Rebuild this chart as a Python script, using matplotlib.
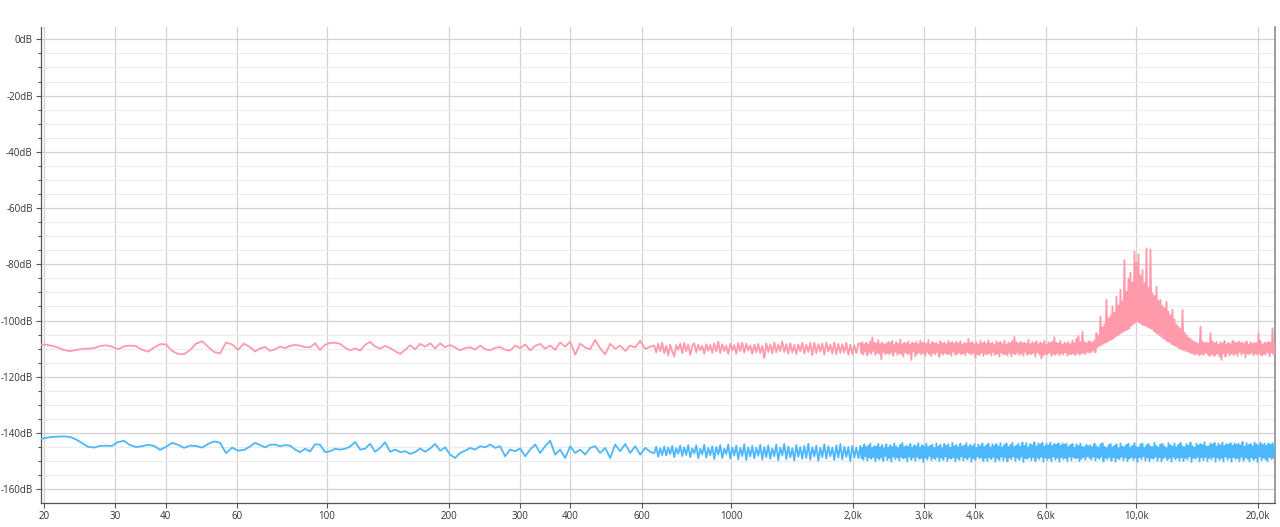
import matplotlib
matplotlib.use("Agg")
import matplotlib.pyplot as plt
from matplotlib.ticker import FixedLocator, FixedFormatter, MultipleLocator, NullLocator

plt.rcParams['font.family'] = ['Open Sans', 'DejaVu Sans']

# shared frequency bins (Hz)
freq_hz = [
    # 20 - 62 Hz
    19.66, 20.23, 20.93, 21.65, 22.41, 23.19, 24.00, 24.83, 25.69, 26.59,
    27.51, 28.47, 29.45, 30.48, 31.54, 32.63, 33.76, 34.94, 36.15, 37.41,
    38.71, 40.06, 41.45, 42.89, 44.38, 45.92, 47.52, 49.17, 50.87, 52.64,
    54.47, 56.36, 58.32, 60.35, 62.45,
    # 64 - 200 Hz
    64.61, 66.48, 68.40, 70.38, 72.40, 74.49, 76.64, 78.85, 81.13, 83.47,
    85.89, 88.37, 90.92, 93.55, 96.24, 99.02, 101.9, 104.8, 107.9, 111.0,
    114.2, 117.5, 120.9, 124.4, 127.9, 131.6, 135.4, 139.3, 143.4, 147.5,
    151.8, 156.2, 160.6, 165.3, 170.1, 175.0, 180.0, 185.2, 190.6, 196.1,
    201.7,
    # 200 - 630 Hz
    207.5, 213.5, 219.7, 226.0, 232.5, 239.3, 246.2, 253.3, 260.6, 268.1,
    275.9, 283.8, 292.0, 300.5, 309.2, 318.1, 327.3, 336.7, 346.4, 356.4,
    366.7, 377.3, 388.2, 399.4, 410.9, 422.8, 435.0, 447.6, 460.5, 473.8,
    487.5, 501.6, 516.1, 531.0, 546.3, 562.1, 578.3, 595.0, 612.2, 629.9,
    # 640 Hz - 2 kHz
    644.4, 651.8, 659.2, 666.8, 674.4, 682.2, 690.0, 697.9, 705.8, 713.9,
    722.1, 730.3, 738.7, 747.2, 755.8, 764.4, 773.2, 782.0, 791.0, 800.1,
    809.2, 818.5, 827.9, 837.3, 846.9, 856.6, 866.4, 876.3, 886.4, 896.5,
    906.8, 917.2, 927.7, 938.3, 949.0, 959.9, 970.9, 982.0, 993.3, 1004.7,
    1016.2, 1027.8, 1039.6, 1051.5, 1063.5, 1075.7, 1088.0, 1100.5, 1113.1, 1125.8,
    1138.7, 1151.8, 1164.9, 1178.3, 1191.8, 1205.4, 1219.2, 1233.2, 1247.3, 1261.6,
    1276.0, 1290.6, 1305.4, 1320.4, 1335.5, 1350.8, 1366.3, 1381.9, 1397.8, 1413.8,
    1430.0, 1446.4, 1462.9, 1479.7, 1496.6, 1513.8, 1531.1, 1548.6, 1566.4, 1584.3,
    1602.5, 1620.8, 1639.4, 1658.2, 1677.2, 1696.4, 1715.8, 1735.5, 1755.3, 1775.4,
    1795.7, 1816.3, 1837.1, 1858.2, 1879.5, 1901.0, 1922.8, 1944.8, 1967.0, 1989.5,
    2012.3, 2035.3, 2058.6,
    # 2 kHz - 7.6 kHz
    2082, 2094.2, 2106, 2118.2, 2130, 2142.4, 2155, 2166.9, 2179, 2191.8,
    2204, 2216.9, 2230, 2242.3, 2255, 2267.9, 2281, 2293.9, 2307, 2320.2,
    2333, 2346.7, 2360, 2373.6, 2387, 2400.8, 2414, 2428.2, 2442, 2456.1,
    2470, 2484.2, 2498, 2512.6, 2527, 2541.4, 2556, 2570.5, 2585, 2599.9,
    2615, 2629.8, 2645, 2659.9, 2675, 2690.4, 2706, 2721.2, 2737, 2752.4,
    2768, 2783.9, 2800, 2815.8, 2832, 2848.0, 2864, 2880.6, 2897, 2913.6,
    2930, 2947.0, 2964, 2980.8, 2998, 3014.9, 3032, 3049.4, 3067, 3084.3,
    3102, 3119.7, 3138, 3155.4, 3173, 3191.6, 3210, 3228.1, 3247, 3265.1,
    3284, 3302.4, 3321, 3340.3, 3359, 3378.5, 3398, 3417.2, 3437, 3456.3,
    3476, 3495.9, 3516, 3536.0, 3556, 3576.5, 3597, 3617.4, 3638, 3658.8,
    3680, 3700.8, 3722, 3743.2, 3765, 3786.0, 3808, 3829.4, 3851, 3873.2,
    3895, 3917.6, 3940, 3962.5, 3985, 4007.9, 4031, 4053.8, 4077, 4100.2,
    4124, 4147.1, 4171, 4194.6, 4219, 4242.6, 4267, 4291.2, 4316, 4340.4,
    4365, 4390.1, 4415, 4440.4, 4466, 4491.2, 4517, 4542.6, 4569, 4594.6,
    4621, 4647.4, 4674, 4700.6, 4727, 4754.4, 4782, 4808.8, 4836, 4863.9,
    4892, 4919.6, 4948, 4976.0, 5004, 5032.9, 5062, 5090.6, 5120, 5148.9,
    5178, 5207.9, 5238, 5267.5, 5298, 5327.8, 5358, 5388.8, 5420, 5450.5,
    5482, 5513.0, 5544, 5576.1, 5608, 5639.9, 5672, 5704.5, 5737, 5769.8,
    5803, 5836.0, 5869, 5902.8, 5937, 5970.4, 6005, 6038.8, 6073, 6107.9,
    6143, 6178.0, 6213, 6248.7, 6284, 6320.2, 6356, 6392.6, 6429, 6465.8,
    6503, 6539.9, 6577, 6614.8, 6653, 6690.5, 6729, 6767.1, 6806, 6844.6,
    6884, 6923.1, 6963, 7002.4, 7042, 7082.5, 7123, 7163.6, 7205, 7245.6,
    7287, 7328.7, 7371, 7412.6, 7455, 7497.5, 7540, 7583.3, 7627,
    # 7.6 kHz - 14.5 kHz
    7670.2,
    7714.1, 7758.1, 7802.4, 7847.0, 7891.8, 7936.8, 7982.1, 8027.7, 8073.5, 8119.6,
    8166.0, 8212.6, 8259.5, 8306.6, 8354.1, 8401.8, 8449.7, 8498.0, 8546.5, 8595.3,
    8644.5, 8693.8, 8743.5, 8793.4, 8843.6, 8894.1, 8944.9, 8995.9, 9047.3, 9098.9,
    9151.0, 9203.2, 9255.8, 9308.6, 9361.8, 9415.2, 9469.0, 9523.0, 9577.4, 9632.1,
    9687.1, 9742.4, 9798.0, 9854.0, 9910.2, 9966.8, 10023.7, 10080.9, 10138.5, 10196.4,
    10254.7, 10313.2, 10372.0, 10431.2, 10490.9, 10550.7, 10611.0, 10671.5, 10732.5, 10793.8,
    10855.5, 10917.5, 10979.8, 11042.5, 11105.5, 11168.9, 11232.7, 11296.8, 11361.3, 11426.2,
    11491.5, 11557.1, 11623.1, 11689.4, 11756.2, 11823.3, 11890.8, 11958.7, 12027.0, 12095.6,
    12164.8, 12234.2, 12304.1, 12374.3, 12445.0, 12516.0, 12587.5, 12659.3, 12731.6, 12804.3,
    12877.5, 12951.0, 13025.0, 13099.3, 13174.1, 13249.3, 13324.9, 13401.0, 13477.5, 13554.4,
    13632.0, 13709.8, 13788.1, 13866.8, 13946.0, 14025.6, 14105.7, 14186.2, 14267.2, 14348.6,
    14430.7, 14513.1,
    # 14.5 kHz - 22 kHz
    14596, 14679.2, 14763, 14847.3, 14932, 15017.3, 15103, 15189.3,
    15276, 15363.4, 15451, 15539.3, 15628, 15717.3, 15807, 15897.2, 15988, 16079.3,
    16171, 16263.5, 16356, 16449.8, 16544, 16638.1, 16733, 16828.6, 16925, 17021.3,
    17119, 17216.4, 17315, 17413.6, 17513, 17612.9, 17713, 17814.6, 17916, 18018.6,
    18122, 18225.1, 18329, 18433.9, 18539, 18645.0, 18751, 18858.4, 18966, 19074.4,
    19183, 19292.9, 19403, 19513.8, 19625, 19737.2, 19850, 19963.2, 20077, 20191.8,
    20307, 20423.2, 20540, 20657.0, 20775, 20893.6, 21013, 21132.8, 21253, 21374.8,
    21497, 21619.8, 21743, 21867.4, 21992,
]

# pink trace (dB)
pink_db = [
    # 20 - 62 Hz
    -108.6, -108.6, -109.0, -109.6, -110.5, -110.9, -110.5, -110.1, -110.0, -109.8,
    -109.1, -108.8, -109.3, -110.2, -109.2, -108.9, -109.1, -110.4, -111.1, -109.6,
    -108.4, -108.5, -110.8, -111.9, -112.0, -110.5, -108.2, -107.4, -109.3, -111.2,
    -111.7, -107.8, -108.5, -110.4, -108.2,
    # 64 - 200 Hz
    -109.5, -111.0, -109.9, -109.4, -110.8, -110.2, -109.3, -109.8, -109.0, -108.7,
    -108.9, -109.5, -109.5, -108.1, -110.5, -108.6, -108.0, -107.9, -108.3, -109.7,
    -110.6, -109.9, -110.7, -108.6, -107.6, -109.2, -110.0, -109.0, -109.8, -110.9,
    -111.9, -110.4, -108.8, -110.2, -108.3, -109.3, -108.1, -109.9, -108.1, -109.5,
    -108.7,
    # 200 - 630 Hz
    -109.6, -110.6, -109.8, -109.5, -110.3, -108.9, -110.2, -110.6, -109.7, -109.4,
    -110.4, -110.7, -108.9, -109.8, -108.5, -110.6, -109.0, -108.3, -110.0, -108.9,
    -110.4, -107.8, -109.3, -107.5, -112.2, -108.2, -109.6, -110.2, -106.9, -109.9,
    -112.0, -108.3, -110.0, -108.9, -110.8, -108.9, -109.6, -107.2, -110.1, -109.3,
    # 640 Hz - 2 kHz
    -108.9, -111.3, -108.3, -110.9, -107.9, -111.7, -109.0, -112.4, -108.6, -111.0,
    -112.8, -108.7, -110.4, -108.2, -111.6, -108.0, -110.9, -108.5, -112.2, -109.0,
    -108.1, -111.3, -108.6, -110.6, -109.0, -111.8, -108.4, -110.8, -108.7, -111.5,
    -108.2, -111.0, -107.5, -111.6, -108.4, -110.9, -108.9, -111.9, -108.3, -110.6,
    -108.7, -111.8, -108.0, -110.9, -107.9, -111.4, -108.2, -110.6, -108.8, -111.9,
    -108.6, -111.3, -108.3, -111.6, -109.0, -113.4, -108.1, -111.2, -108.5, -111.7,
    -107.8, -111.3, -108.6, -110.9, -107.5, -111.2, -108.4, -111.8, -108.1, -111.4,
    -108.7, -111.9, -108.5, -111.0, -107.9, -111.7, -108.6, -111.2, -108.0, -112.3,
    -107.9, -111.6, -108.4, -111.0, -108.2, -112.1, -107.8, -111.0, -108.5, -111.8,
    -107.8, -112.0, -108.3, -111.5, -108.4, -111.4, -107.9, -112.2, -108.6, -111.9,
    -108.8, -111.6, -108.2,
    # 2 kHz - 7.6 kHz
    -108.2, -111.6, -107.6, -112.1, -108.5, -111.0, -107.9, -112.4, -108.6, -111.3,
    -107.4, -111.9, -106.0, -110.8, -107.9, -112.3, -108.1, -111.5, -107.0, -111.8,
    -108.4, -113.8, -107.8, -111.2, -108.6, -112.0, -108.2, -111.7, -107.5, -112.0,
    -108.0, -111.4, -107.3, -112.5, -108.7, -111.1, -107.7, -112.2, -108.3, -111.6,
    -106.8, -111.9, -108.5, -112.8, -107.9, -111.3, -108.1, -112.0, -107.4, -111.7,
    -108.6, -114.0, -107.8, -111.0, -108.2, -112.7, -107.5, -111.8, -108.4, -111.4,
    -107.1, -112.1, -108.0, -111.6, -107.7, -112.4, -108.3, -111.2, -106.9, -111.9,
    -108.5, -112.6, -107.6, -111.5, -108.1, -112.0, -107.9, -111.3, -108.6, -112.9,
    -107.4, -111.7, -108.2, -112.2, -107.8, -111.5, -108.4, -112.0, -107.2, -111.8,
    -108.0, -112.5, -107.7, -111.1, -108.3, -112.3, -107.5, -111.9, -108.1, -111.4,
    -107.3, -112.0, -108.5, -111.6, -107.9, -112.4, -108.2, -111.2, -106.5, -111.7,
    -108.0, -112.1, -107.6, -111.5, -108.4, -113.2, -107.8, -111.9, -108.6, -112.3,
    -107.2, -111.4, -108.1, -112.6, -107.5, -111.8, -108.3, -112.0, -107.0, -111.6,
    -108.2, -112.5, -107.9, -111.2, -108.7, -112.2, -107.4, -111.7, -108.0, -112.8,
    -107.6, -111.3, -108.4, -112.1, -107.1, -111.9, -108.5, -112.4, -107.8, -111.5,
    -108.1, -112.7, -107.3, -111.6, -105.8, -112.0, -107.7, -111.4, -108.2, -112.3,
    -107.5, -111.8, -108.0, -112.5, -107.9, -111.1, -108.3, -112.2, -106.9, -111.7,
    -108.4, -112.0, -107.6, -111.5, -108.1, -112.9, -107.4, -111.3, -108.5, -112.1,
    -107.8, -113.5, -108.2, -112.4, -107.2, -111.9, -108.6, -112.0, -107.7, -111.4,
    -108.0, -112.6, -107.5, -111.8, -106.0, -112.2, -107.9, -111.5, -108.1, -112.4,
    -107.3, -111.7, -108.5, -112.1, -107.8, -111.3, -108.2, -112.5, -107.6, -111.9,
    -108.4, -112.0, -107.1, -111.6, -108.0, -112.3, -106.5, -111.4, -105.5, -112.1,
    -107.7, -111.8, -104.0, -111.5, -107.6, -112.0, -108.1, -111.2, -107.4,
    # 7.6 kHz - 14.5 kHz (resonance around 10 kHz)
    -111.5,
    -107.4, -111.2, -107.9, -110.6, -107.1, -111.4, -104.5, -109.6, -105.3, -109.0,
    -98.6, -108.7, -102.4, -108.2, -101.5, -107.9, -92.7, -107.6, -99.2, -107.0,
    -98.4, -106.8, -95.0, -106.3, -97.3, -105.8, -91.5, -105.2, -94.6, -104.9,
    -89.0, -104.3, -93.2, -103.9, -78.5, -103.5, -89.8, -103.2, -85.0, -102.8,
    -83.0, -101.9, -86.4, -101.2, -75.5, -100.6, -79.5, -100.3, -76.5, -100.8,
    -84.0, -101.2, -82.0, -101.6, -86.7, -101.8, -74.3, -102.2, -88.5, -102.6,
    -74.7, -103.0, -90.3, -103.6, -91.2, -104.1, -88.0, -104.7, -93.0, -105.2,
    -92.7, -105.9, -94.8, -106.4, -95.6, -106.9, -93.3, -107.4, -96.9, -107.8,
    -98.1, -108.3, -96.2, -108.7, -99.6, -109.1, -101.4, -109.5, -102.2, -109.9,
    -103.0, -110.2, -96.2, -110.5, -104.3, -110.8, -105.2, -111.0, -106.1, -111.4,
    -106.5, -111.6, -107.2, -111.9, -107.6, -112.2, -107.9, -111.7, -108.3, -112.4,
    -102.2, -111.8,
    # 14.5 kHz - 22 kHz
    -107.5, -112.3, -108.0, -111.5, -107.8, -111.9, -108.1, -112.6,
    -104.5, -111.9, -107.4, -112.5, -108.0, -112.4, -107.6, -111.7, -108.5, -112.8,
    -107.7, -114.0, -108.2, -111.6, -107.3, -112.9, -108.6, -111.4, -107.9, -112.5,
    -108.4, -111.8, -107.2, -112.3, -107.6, -111.9, -108.1, -112.6, -107.5, -111.2,
    -108.0, -112.2, -107.8, -111.5, -108.3, -113.1, -107.4, -111.7, -108.6, -112.0,
    -107.7, -111.4, -108.2, -112.4, -107.9, -111.8, -108.1, -112.1, -104.5, -111.6,
    -107.3, -112.5, -108.4, -111.9, -107.8, -112.2, -108.0, -111.3, -107.6, -112.7,
    -107.9, -111.4, -102.8, -112.0, -108.2,
]

# blue trace (dB)
blue_db = [
    # 20 - 62 Hz
    -142.1, -141.7, -141.4, -141.3, -141.2, -141.4, -142.3, -143.6, -144.9, -145.2,
    -144.6, -144.5, -144.6, -143.2, -142.8, -144.3, -145.0, -144.7, -144.2, -144.6,
    -146.0, -144.9, -143.5, -144.2, -145.3, -144.5, -144.6, -145.2, -143.9, -143.0,
    -143.5, -147.2, -145.2, -146.3, -146.0,
    # 64 - 200 Hz
    -144.8, -143.5, -144.3, -145.1, -144.2, -144.1, -144.7, -144.3, -144.5, -145.9,
    -146.8, -145.6, -146.6, -144.0, -144.2, -146.8, -146.5, -145.6, -145.9, -145.6,
    -144.8, -143.2, -145.9, -145.6, -143.8, -146.7, -145.3, -143.3, -146.7, -145.9,
    -146.8, -146.5, -147.4, -146.8, -145.5, -146.7, -145.5, -143.9, -146.3, -145.1,
    -147.7,
    # 200 - 630 Hz
    -148.9, -147.1, -146.3, -145.3, -145.9, -144.7, -145.1, -144.1, -145.3, -144.7,
    -148.3, -145.9, -146.5, -145.5, -148.3, -145.9, -144.1, -147.1, -144.7, -142.7,
    -147.7, -145.9, -148.9, -144.7, -147.1, -145.9, -147.7, -145.3, -144.7, -147.1,
    -145.3, -148.9, -144.1, -146.5, -143.9, -147.1, -144.7, -147.7, -145.3, -146.7,
    # 640 Hz - 2 kHz
    -147.2, -144.9, -148.4, -145.4, -147.9, -144.8, -148.0, -145.2, -147.5, -144.6,
    -148.6, -145.4, -147.4, -144.5, -148.2, -145.1, -147.8, -144.3, -148.6, -145.5,
    -147.3, -144.4, -149.0, -145.6, -147.6, -144.2, -148.8, -145.3, -147.9, -144.7,
    -149.3, -145.0, -147.7, -144.3, -148.9, -145.6, -147.5, -144.1, -149.1, -145.2,
    -148.0, -144.5, -149.4, -145.3, -148.2, -144.0, -149.6, -145.1, -148.4, -144.6,
    -149.0, -145.3, -148.1, -144.2, -149.5, -145.0, -148.6, -144.4, -149.2, -145.5,
    -148.3, -144.1, -149.7, -145.2, -148.0, -143.9, -149.3, -144.8, -148.7, -145.4,
    -149.8, -144.3, -148.5, -145.0, -149.2, -144.6, -148.9, -143.8, -149.5, -145.1,
    -148.4, -144.5, -149.9, -145.3, -148.6, -144.0, -149.1, -144.7, -148.3, -145.2,
    -149.6, -144.4, -148.8, -143.9, -149.4, -144.9, -148.5, -145.0, -150.0, -144.6,
    -148.7, -145.2, -149.0,
    # 2 kHz - 7.6 kHz
    -144.6, -148.9, -145.2, -149.5, -144.1, -148.3, -145.0, -149.8, -144.5, -148.7,
    -143.8, -149.2, -145.3, -148.5, -144.7, -150.0, -144.9, -148.8, -143.9, -149.4,
    -145.1, -148.6, -144.3, -149.9, -145.4, -148.2, -144.0, -149.6, -145.2, -148.9,
    -144.4, -150.2, -145.0, -148.4, -143.7, -149.3, -144.8, -148.7, -145.3, -149.8,
    -144.2, -148.5, -143.5, -149.1, -145.0, -148.8, -144.6, -150.1, -144.9, -148.3,
    -143.9, -149.5, -145.2, -148.6, -144.4, -149.9, -144.7, -148.4, -143.6, -149.2,
    -145.1, -148.9, -144.3, -150.3, -144.8, -148.6, -143.8, -149.4, -145.0, -148.2,
    -144.5, -149.7, -144.1, -148.8, -145.3, -149.3, -143.7, -148.5, -144.9, -150.0,
    -144.2, -148.7, -145.4, -149.6, -143.9, -148.4, -144.6, -149.9, -144.0, -148.9,
    -145.2, -149.2, -143.5, -148.6, -144.7, -150.1, -144.3, -148.8, -145.1, -149.5,
    -143.8, -148.3, -144.9, -149.8, -144.4, -148.7, -143.6, -149.4, -145.0, -148.5,
    -144.2, -150.2, -144.8, -148.9, -143.9, -149.6, -145.3, -148.4, -144.1, -149.1,
    -144.7, -148.6, -143.7, -149.9, -145.0, -148.8, -144.4, -150.0, -143.8, -148.7,
    -145.1, -149.3, -144.0, -148.5, -144.6, -150.2, -143.9, -148.9, -144.8, -149.6,
    -143.6, -148.4, -145.2, -149.8, -144.3, -148.6, -143.7, -150.1, -144.9, -148.8,
    -144.2, -149.4, -143.5, -148.3, -145.0, -149.9, -144.5, -148.7, -143.8, -149.5,
    -144.9, -148.4, -143.4, -150.3, -144.6, -148.9, -143.6, -149.2, -145.1, -148.5,
    -143.9, -149.7, -144.4, -148.6, -143.3, -150.0, -144.7, -148.8, -143.7, -149.4,
    -144.1, -148.5, -143.5, -150.2, -144.8, -148.7, -143.8, -149.6, -144.3, -148.9,
    -143.4, -150.1, -144.6, -148.4, -143.9, -149.5, -144.2, -148.8, -143.6, -150.2,
    -144.5, -148.6, -143.7, -149.3, -144.1, -148.9, -143.8, -150.0, -145.0, -148.4,
    -144.3, -149.7, -143.9, -148.5, -145.2, -149.1, -144.0, -148.8, -144.6, -150.0,
    -143.8, -149.2, -144.9, -148.6, -145.1, -149.5, -144.2, -148.3, -144.7,
    # 7.6 kHz - 14.5 kHz
    -148.9,
    -144.3, -149.5, -145.0, -148.4, -143.8, -149.8, -144.7, -148.7, -145.2, -149.2,
    -144.1, -148.3, -143.6, -150.1, -144.9, -148.8, -145.3, -149.4, -144.4, -148.5,
    -143.9, -149.9, -145.1, -148.6, -144.6, -150.2, -144.0, -148.9, -145.4, -149.3,
    -143.7, -148.4, -144.8, -149.7, -145.0, -148.7, -144.2, -150.0, -143.8, -149.1,
    -145.2, -148.5, -144.5, -149.6, -143.6, -148.8, -144.9, -150.3, -145.1, -148.6,
    -144.0, -149.4, -143.7, -148.3, -145.3, -149.8, -144.4, -148.7, -143.9, -150.0,
    -144.8, -148.9, -145.0, -149.2, -143.5, -148.4, -144.6, -149.9, -145.2, -148.6,
    -144.1, -150.1, -143.8, -149.0, -144.7, -148.5, -145.3, -149.6, -143.6, -148.8,
    -144.3, -150.2, -144.9, -148.4, -143.7, -149.3, -145.1, -148.7, -144.2, -149.9,
    -143.5, -148.6, -144.8, -150.0, -145.0, -148.9, -143.9, -149.5, -144.5, -148.3,
    -143.4, -150.3, -144.7, -148.8, -145.2, -149.2, -143.8, -148.5, -144.4, -150.1,
    -143.9, -148.7,
    # 14.5 kHz - 22 kHz
    -144.4, -149.7, -143.3, -148.6, -144.8, -150.0, -144.7, -148.8,
    -143.7, -149.4, -144.1, -148.5, -143.5, -150.2, -144.8, -148.7, -143.8, -149.6,
    -144.3, -148.9, -143.4, -150.1, -144.6, -148.4, -143.9, -149.5, -144.2, -148.8,
    -143.6, -150.2, -144.5, -148.6, -143.7, -149.3, -144.1, -148.9, -143.8, -150.0,
    -144.4, -148.5, -143.2, -149.8, -144.9, -148.7, -143.6, -149.2, -144.3, -150.1,
    -143.9, -148.6, -144.7, -149.5, -143.4, -148.9, -144.0, -150.3, -144.6, -148.4,
    -143.5, -149.7, -144.2, -148.8, -143.8, -149.4, -144.5, -150.0, -143.7, -148.6,
    -144.1, -149.3, -143.6, -148.9, -144.4,
]

xtick_vals = [20, 30, 40, 60, 100, 200, 300, 400, 600, 1000,
              2000, 3000, 4000, 6000, 10000, 20000]
xtick_text = ["20", "30", "40", "60", "100", "200", "300", "400", "600", "1000",
              "2,0k", "3,0k", "4,0k", "6,0k", "10,0k", "20,0k"]
ytick_vals = [0, -20, -40, -60, -80, -100, -120, -140, -160]
ytick_text = ["%ddB" % v for v in ytick_vals]

fig = plt.figure(figsize=(12.8, 5.27), dpi=100)
ax = fig.add_axes([41 / 1280, 24 / 527, 1234 / 1280, 476 / 527])

ax.plot(freq_hz, pink_db, color='#ff9aab', lw=1.3, zorder=3)
ax.plot(freq_hz, blue_db, color='#4db7fc', lw=1.3, zorder=3)

ax.set_xscale('log')
ax.set_xlim(19.66, 22050)
ax.set_ylim(-164.9, 4.4)

ax.xaxis.set_major_locator(FixedLocator(xtick_vals))
ax.xaxis.set_major_formatter(FixedFormatter(xtick_text))
ax.xaxis.set_minor_locator(NullLocator())
ax.set_yticks(ytick_vals, ytick_text)
ax.yaxis.set_minor_locator(MultipleLocator(5))

ax.grid(which='major', color='#d3d3d3', lw=0.9)
ax.grid(which='minor', axis='y', color='#ececec', lw=0.8)
ax.set_axisbelow(True)

for s in ['left', 'bottom']:
    ax.spines[s].set_color('#555555')
    ax.spines[s].set_linewidth(0.9)
ax.spines['right'].set_color('#8c8c8c')
ax.spines['right'].set_linewidth(1.2)
ax.spines['top'].set_visible(False)

ax.tick_params(axis='both', which='major', length=3.4, width=0.8, color='#555555',
               labelsize=7, labelcolor='#333333', pad=2.5)
ax.tick_params(axis='y', which='minor', length=2.2, width=0.8, color='#555555')

fig.savefig('out.png', dpi=100)
